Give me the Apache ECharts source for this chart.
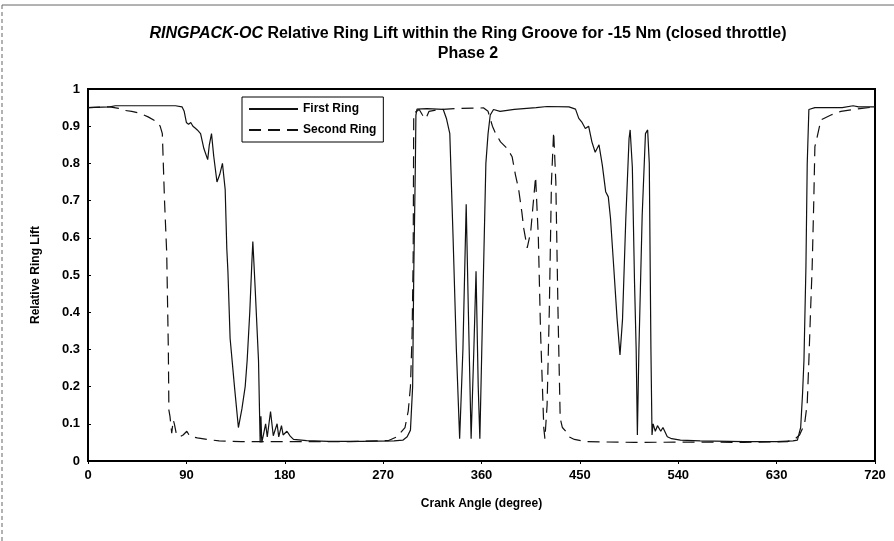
<!DOCTYPE html>
<html>
<head>
<meta charset="utf-8">
<title>Relative Ring Lift</title>
<script src="https://cdn.jsdelivr.net/npm/echarts@6/dist/echarts.min.js"></script>
<style>
  html, body { margin: 0; padding: 0; background: #fff; }
  #chart { width: 894px; height: 541px; }
</style>
</head>
<body>
<div id="chart"></div>
<script>
// Crank angle ticks (degrees)
const crankTicks = [0, 90, 180, 270, 360, 450, 540, 630, 720];
const liftTicks = [0, 0.1, 0.2, 0.3, 0.4, 0.5, 0.6, 0.7, 0.8, 0.9, 1];

// First ring: crank angle (deg) and relative lift
const firstRingAngle = [
  0, 20, 25, 60, 80, 86, 88, 90, 92, 94, 96, 98, 100, 103, 106, 109.5, 111, 113, 115, 118,
  120.5, 123, 125.5, 127, 128, 130, 134, 137.6, 140.8, 143.8, 145.6, 148, 150, 150.8, 152, 153,
  156, 157, 157.5, 158.2, 159, 160.5, 162.5, 164, 167, 169.5, 173, 174.5, 177, 178.5, 182, 185,
  188, 200, 220, 250, 280, 288, 292, 295, 297, 298, 299.5, 300, 301, 310, 325, 328, 331, 334,
  337, 340, 343, 346, 348, 350.5, 353, 355, 357, 358.5, 361, 364, 366, 368, 371, 377, 390, 410,
  420, 440, 446, 449, 452, 455, 458, 461, 464, 467.5, 470.5, 473.6, 476, 478, 481, 484, 486.7,
  489, 492, 495, 496, 498, 500, 501.5, 502.6, 504, 507, 510, 512, 513.5, 515, 516, 517, 519,
  521, 524, 526, 530, 534, 542, 560, 600, 630, 645, 649, 652, 653.7, 655, 656.8, 658, 659.5,
  665, 690, 700, 705, 720
];
const firstRingLift = [
  0.950, 0.952, 0.955, 0.955, 0.955, 0.952, 0.940, 0.910, 0.905, 0.910, 0.900, 0.895, 0.890, 0.880, 0.840, 0.810, 0.850, 0.880, 0.820, 0.750,
  0.770, 0.800, 0.730, 0.570, 0.510, 0.330, 0.200, 0.090, 0.140, 0.200, 0.270, 0.400, 0.540, 0.590, 0.520, 0.460,
  0.270, 0.120, 0.050, 0.120, 0.050, 0.070, 0.100, 0.065, 0.133, 0.068, 0.100, 0.065, 0.095, 0.070, 0.080, 0.067,
  0.058, 0.055, 0.053, 0.053, 0.054, 0.056, 0.065, 0.083, 0.200, 0.500, 0.800, 0.930, 0.946, 0.947, 0.945, 0.920, 0.880, 0.600,
  0.300, 0.060, 0.300, 0.690, 0.400, 0.060, 0.300, 0.510, 0.200, 0.060, 0.400, 0.800, 0.880, 0.930, 0.945, 0.940, 0.945, 0.950,
  0.953, 0.952, 0.946, 0.921, 0.910, 0.894, 0.900, 0.858, 0.830, 0.850, 0.796, 0.724, 0.710, 0.653, 0.520, 0.384, 0.285,
  0.380, 0.650, 0.867, 0.890, 0.790, 0.480, 0.300, 0.070, 0.300, 0.660, 0.880, 0.890, 0.800, 0.300, 0.070, 0.100, 0.080,
  0.095, 0.080, 0.090, 0.065, 0.060, 0.056, 0.054, 0.052, 0.052, 0.054, 0.056, 0.090, 0.180, 0.270, 0.520, 0.800, 0.945,
  0.950, 0.950, 0.955, 0.952, 0.952
];

// Second ring: crank angle (deg) and relative lift
const secondRingAngle = [
  0, 20, 28, 32, 40, 47.6, 55, 63, 66, 68, 70, 72, 73.5, 74, 75, 76.6, 78, 79, 81, 84, 87,
  90.4, 93, 100, 108.7, 120, 140, 180, 240, 275, 282.7, 290, 293, 295, 296.5, 297.5, 298, 303,
  306, 309, 312, 322, 340, 362, 366, 370, 373, 377.4, 383.5, 388, 391, 394, 397, 398.6, 401.8,
  405, 408, 409.5, 412, 414, 417, 418, 420, 422, 424, 426, 428, 430, 432, 434, 437, 440, 445,
  455, 500, 560, 600, 640, 647, 651, 655.6, 658, 659.5, 661, 662.5, 664, 665, 667, 670.5,
  679.7, 688.8, 700, 720
];
const secondRingLift = [
  0.950, 0.952, 0.948, 0.943, 0.940, 0.935, 0.925, 0.912, 0.900, 0.880, 0.700, 0.560, 0.300, 0.137, 0.120, 0.075, 0.110, 0.100, 0.070, 0.065, 0.070,
  0.080, 0.067, 0.062, 0.058, 0.054, 0.052, 0.052, 0.052, 0.055, 0.065, 0.090, 0.135, 0.200, 0.340, 0.550, 0.935, 0.945,
  0.930, 0.920, 0.940, 0.945, 0.948, 0.949, 0.940, 0.900, 0.880, 0.858, 0.840, 0.818, 0.770, 0.730, 0.667, 0.626, 0.573,
  0.616, 0.715, 0.764, 0.600, 0.350, 0.088, 0.060, 0.150, 0.400, 0.750, 0.885, 0.750, 0.400, 0.115, 0.090, 0.080, 0.065, 0.058,
  0.052, 0.050, 0.051, 0.050, 0.052, 0.060, 0.070, 0.100, 0.155, 0.270, 0.400, 0.520, 0.700, 0.845, 0.870, 0.917,
  0.930, 0.940, 0.945, 0.952
];

const pairs = (xs, ys) => xs.map((x, i) => [x, ys[i]]);
const font = "'Liberation Sans', Arial, sans-serif";

const chart = echarts.init(document.getElementById('chart'), null, { renderer: 'canvas' });

chart.setOption({
  animation: false,
  backgroundColor: '#fff',
  title: {
    left: 463,
    top: 19,
    textAlign: 'center',
    text: '{it|RINGPACK-OC} Relative Ring Lift within the Ring Groove for -15 Nm (closed throttle)\nPhase 2',
    textStyle: {
      fontFamily: font,
      fontWeight: 'bold',
      fontSize: 16,
      lineHeight: 20,
      color: '#000',
      rich: {
        it: { fontFamily: font, fontWeight: 'bold', fontStyle: 'italic', fontSize: 16, color: '#000' }
      }
    }
  },
  legend: {
    left: 242,
    top: 97,
    orient: 'vertical',
    backgroundColor: '#fff',
    borderColor: '#000',
    borderWidth: 1,
    borderRadius: 0,
    padding: [6, 7, 6, 6],
    itemWidth: 49,
    itemHeight: 14,
    itemGap: 9,
    // line-only keys: hide the marker that sits on each key line
    itemStyle: { opacity: 0 },
    textStyle: { fontFamily: font, fontWeight: 'bold', fontSize: 12, color: '#000' },
    data: ['First Ring', 'Second Ring']
  },
  grid: {
    left: 88, right: 19, top: 89, bottom: 80,
    show: true, borderColor: '#000', borderWidth: 2
  },
  xAxis: {
    type: 'value',
    min: crankTicks[0],
    max: crankTicks[crankTicks.length - 1],
    interval: 90,
    name: 'Crank Angle (degree)',
    nameLocation: 'middle',
    nameGap: 37,
    nameTextStyle: { fontFamily: font, fontWeight: 'bold', fontSize: 12, color: '#000' },
    axisLine: { lineStyle: { color: '#000', width: 2 } },
    axisTick: { length: 3, lineStyle: { color: '#000', width: 1 } },
    axisLabel: { margin: 8, fontFamily: font, fontWeight: 'bold', fontSize: 13, color: '#000' },
    splitLine: { show: false }
  },
  yAxis: {
    type: 'value',
    min: liftTicks[0],
    max: liftTicks[liftTicks.length - 1],
    interval: 0.1,
    name: 'Relative Ring Lift',
    nameLocation: 'middle',
    nameRotate: 90,
    nameGap: 46,
    nameTextStyle: { fontFamily: font, fontWeight: 'bold', fontSize: 12, color: '#000' },
    axisLine: { lineStyle: { color: '#000', width: 2 } },
    axisTick: { inside: true, length: 3, lineStyle: { color: '#000', width: 1 } },
    axisLabel: {
      margin: 8, fontFamily: font, fontWeight: 'bold', fontSize: 13, color: '#000',
      formatter: v => String(Math.round(v * 10) / 10)
    },
    splitLine: { show: false }
  },
  series: [
    {
      name: 'First Ring',
      type: 'line',
      symbol: 'none',
      data: pairs(firstRingAngle, firstRingLift),
      lineStyle: { color: '#111', width: 1.2, type: 'solid' },
      itemStyle: { color: '#111' }
    },
    {
      name: 'Second Ring',
      type: 'line',
      symbol: 'none',
      data: pairs(secondRingAngle, secondRingLift),
      lineStyle: { color: '#111', width: 1.2, type: [12, 7] },
      itemStyle: { color: '#111' }
    }
  ],
  graphic: [
    { type: 'line', shape: { x1: 2, y1: 5, x2: 894, y2: 5 }, style: { stroke: '#666', lineWidth: 1 } },
    { type: 'line', shape: { x1: 2, y1: 5, x2: 2, y2: 541 }, style: { stroke: '#666', lineWidth: 1, lineDash: [4, 3] } }
  ]
});
</script>
</body>
</html>
